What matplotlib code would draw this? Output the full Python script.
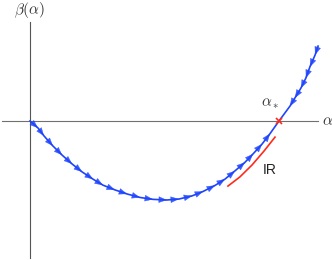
import numpy as np
import matplotlib
matplotlib.use('Agg')
import matplotlib.pyplot as plt

plt.rcParams['mathtext.fontset'] = 'cm'

# beta(alpha) curve
alpha = [0.000, 0.032, 0.056, 0.092, 0.129, 0.169, 0.209, 0.253, 0.293, 0.341,
         0.390, 0.442, 0.494, 0.550, 0.598, 0.651, 0.695, 0.743, 0.783, 0.823,
         0.863, 0.896, 0.932, 0.964, 1.000, 1.044, 1.064, 1.088, 1.108, 1.124,
         1.145, 1.157]
beta = [0.000, -0.022, -0.047, -0.079, -0.108, -0.136, -0.161, -0.184, -0.203, -0.218,
        -0.231, -0.242, -0.248, -0.250, -0.247, -0.237, -0.223, -0.204, -0.184, -0.158,
        -0.131, -0.104, -0.073, -0.040, 0.000, 0.047, 0.073, 0.104, 0.136, 0.171,
        0.209, 0.237]

# flow arrows: towards the fixed point from both sides
arrows_below = [0.032, 0.056, 0.092, 0.129, 0.169, 0.209, 0.253, 0.293, 0.341, 0.390,
                0.442, 0.494, 0.550, 0.598, 0.651, 0.695, 0.743, 0.783, 0.823, 0.863,
                0.896, 0.932, 0.964]
arrows_above = [1.044, 1.064, 1.088, 1.108, 1.124, 1.145]

# IR piece
ir_alpha = [0.795, 0.843, 0.892, 0.940, 0.984]
ir_beta = [-0.206, -0.177, -0.139, -0.095, -0.051]

alpha_star = 1.0

blue = '#1f45fc'
red = '#ff2a1a'

fig = plt.figure(figsize=(3.32, 2.60), dpi=100)
ax = fig.add_axes([0, 0, 1, 1])
ax.set_xlim(-0.1205, 1.2129)
ax.set_ylim(-0.4399, 0.3829)
ax.axis('off')

# axes lines
ax.plot([-0.112, 1.157], [0, 0], color='#707070', lw=0.8, zorder=1)
ax.plot([0, 0], [0.313, -0.434], color='#555555', lw=0.8, zorder=1)

ax.plot(alpha, beta, color=blue, lw=1.2, zorder=3)

def flow_arrow(a, sign):
    d = 0.004
    b0 = np.interp(a - sign * d, alpha, beta)
    b1 = np.interp(a, alpha, beta)
    ax.annotate('', xy=(a, b1), xytext=(a - sign * d, b0),
                arrowprops=dict(arrowstyle='-|>,head_length=0.9,head_width=0.35',
                                color=blue, lw=0.3, shrinkA=0, shrinkB=0,
                                mutation_scale=6, alpha=0.85),
                zorder=4)

for a in arrows_below:
    flow_arrow(a, 1)
for a in arrows_above:
    flow_arrow(a, -1)

ax.plot(ir_alpha, ir_beta, color=red, lw=1.2, zorder=3)
ax.plot([alpha_star], [0], marker='x', color=red, ms=5, mew=1.2, zorder=5)

ax.text(-0.004, 0.351, r'$\beta(\alpha)$', fontsize=11, color='#333333',
        ha='center', va='center')
ax.text(1.173, 0.0, r'$\alpha$', fontsize=11, color='#333333',
        ha='left', va='center')
ax.text(0.964, 0.054, r'$\alpha_*$', fontsize=11, color='#333333',
        ha='center', va='center')
ax.text(0.964, -0.155, 'IR', fontsize=10, family='Liberation Sans',
        color='#222222', ha='center', va='center')

fig.savefig('out.png', dpi=100)
